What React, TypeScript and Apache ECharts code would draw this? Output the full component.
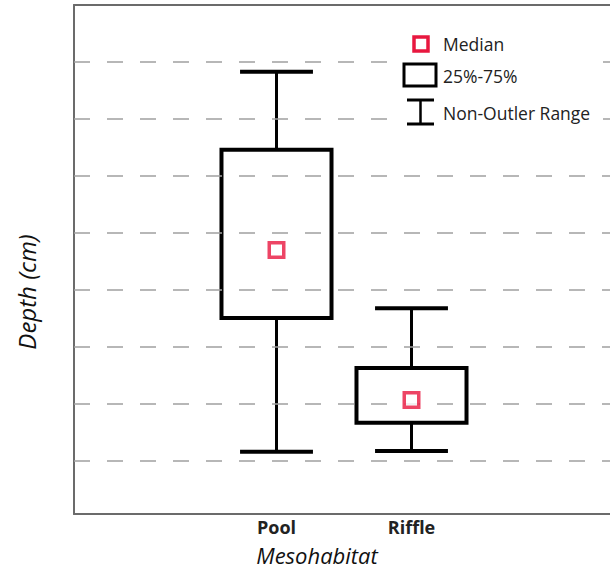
import React, { useEffect, useRef } from "react";
import * as echarts from "echarts";

const categories = ["", "Pool", "Riffle", ""];
const boxNames = ["Pool", "Riffle"];
const whiskerLow = [11.6, 11.75];
const q1 = [35.1, 16.7];
const q3 = [64.6, 26.3];
const whiskerHigh = [78.3, 36.8];
const medians = [47.0, 20.7];
const gridValues = [10, 20, 30, 40, 50, 60, 70, 80];
const legendLabels = ["Median", "25%-75%", "Non-Outler Range"];

const RED = "#e8173f";
const FONT = "'Open Sans', 'Noto Sans', sans-serif";

export default function App() {
  const ref = useRef<HTMLDivElement>(null);
  useEffect(() => {
    if (!ref.current) return;
    const chart = echarts.init(ref.current, null, { renderer: "svg" });
    const boxData = boxNames.map((n, i) => [
      categories.indexOf(n),
      whiskerLow[i],
      q1[i],
      q3[i],
      whiskerHigh[i],
    ]);
    const medianData = boxNames.map((n, i) => [categories.indexOf(n), medians[i]]);

    chart.setOption({
      animation: false,
      grid: { left: 74, top: 5, right: 0, bottom: 55, containLabel: false },
      xAxis: [
        {
          type: "category",
          data: categories,
          boundaryGap: true,
          axisLine: { show: true, lineStyle: { color: "#6b6b6b", width: 2 } },
          axisTick: { show: false },
          axisLabel: {
            margin: 4,
            fontFamily: FONT,
            fontWeight: "bold",
            fontSize: 18,
            lineHeight: 17,
            color: "#222",
          },
          splitLine: { show: false },
        },
        {
          type: "category",
          data: categories,
          position: "top",
          axisLine: { show: true, lineStyle: { color: "#6b6b6b", width: 2 } },
          axisTick: { show: false },
          axisLabel: { show: false },
        },
      ],
      yAxis: {
        type: "value",
        min: 0.7,
        max: 90,
        axisLine: { show: true, lineStyle: { color: "#6b6b6b", width: 2 } },
        axisTick: { show: false },
        axisLabel: { show: false },
        splitLine: { show: false },
      },
      series: [
        {
          type: "line",
          data: [],
          silent: true,
          z: 1,
          markLine: {
            silent: true,
            symbol: "none",
            label: { show: false },
            lineStyle: { color: "#a0a0a0", width: 1.5, type: [16, 17] },
            data: gridValues.map((v) => ({ yAxis: v })),
          },
        },
        {
          type: "custom",
          z: 3,
          data: boxData,
          renderItem: (params: any, api: any) => {
            const x = api.value(0);
            const band = api.size([1, 0])[0];
            const pLow = api.coord([x, api.value(1)]);
            const pQ1 = api.coord([x, api.value(2)]);
            const pQ3 = api.coord([x, api.value(3)]);
            const pHigh = api.coord([x, api.value(4)]);
            const cx = pLow[0];
            const bw = band * 0.815;
            const cw = band * 0.54;
            const black = "#000";
            return {
              type: "group",
              children: [
                { type: "line", shape: { x1: cx, y1: pHigh[1], x2: cx, y2: pQ3[1] }, style: { stroke: black, lineWidth: 3 } },
                { type: "line", shape: { x1: cx, y1: pQ1[1], x2: cx, y2: pLow[1] }, style: { stroke: black, lineWidth: 3 } },
                { type: "line", shape: { x1: cx - cw / 2, y1: pHigh[1], x2: cx + cw / 2, y2: pHigh[1] }, style: { stroke: black, lineWidth: 4 } },
                { type: "line", shape: { x1: cx - cw / 2, y1: pLow[1], x2: cx + cw / 2, y2: pLow[1] }, style: { stroke: black, lineWidth: 4 } },
                {
                  type: "rect",
                  shape: { x: cx - bw / 2, y: pQ3[1], width: bw, height: pQ1[1] - pQ3[1] },
                  style: { fill: "#fff", stroke: black, lineWidth: 4 },
                },
              ],
            };
          },
        },
        {
          type: "scatter",
          z: 5,
          data: medianData,
          symbol: "rect",
          symbolSize: 14.5,
          itemStyle: { color: "#fff", borderColor: RED, borderWidth: 3.5 },
        },
      ],
      graphic: [
        { type: "rect", z: 100, shape: { x: 395, y: 25, width: 208, height: 112 }, style: { fill: "#fff" } },
        { type: "rect", z: 101, shape: { x: 414, y: 37, width: 14, height: 14 }, style: { fill: "#fff", stroke: RED, lineWidth: 3.5 } },
        { type: "rect", z: 101, shape: { x: 404, y: 64, width: 32, height: 22 }, style: { fill: "#fff", stroke: "#000", lineWidth: 3 } },
        { type: "line", z: 101, shape: { x1: 407, y1: 100, x2: 434, y2: 100 }, style: { stroke: "#000", lineWidth: 3 } },
        { type: "line", z: 101, shape: { x1: 407, y1: 124, x2: 434, y2: 124 }, style: { stroke: "#000", lineWidth: 3 } },
        { type: "line", z: 101, shape: { x1: 420.5, y1: 100, x2: 420.5, y2: 124 }, style: { stroke: "#000", lineWidth: 2.5 } },
        ...legendLabels.map((t, i) => ({
          type: "text",
          z: 101,
          x: 443,
          y: [44, 76, 113][i],
          style: { text: t, fontFamily: FONT, fontSize: 17.5, fill: "#222", verticalAlign: "middle" },
        })),
        {
          type: "text",
          z: 101,
          x: 317,
          y: 555,
          style: { text: "Mesohabitat", fontFamily: FONT, fontStyle: "italic", fontSize: 22, lineHeight: 22, fill: "#111", align: "center", verticalAlign: "middle" },
        },
        {
          type: "text",
          z: 101,
          x: 26,
          y: 292,
          rotation: Math.PI / 2,
          style: { text: "Depth (cm)", fontFamily: FONT, fontStyle: "italic", fontSize: 24, fill: "#111", align: "center", verticalAlign: "middle" },
        },
      ],
    });
    return () => chart.dispose();
  }, []);
  return (
    <div style={{ position: "absolute", left: 0, top: 0, width: 610, height: 569, overflow: "hidden" }}>
      <div ref={ref} style={{ width: 614, height: 569 }} />
    </div>
  );
}
